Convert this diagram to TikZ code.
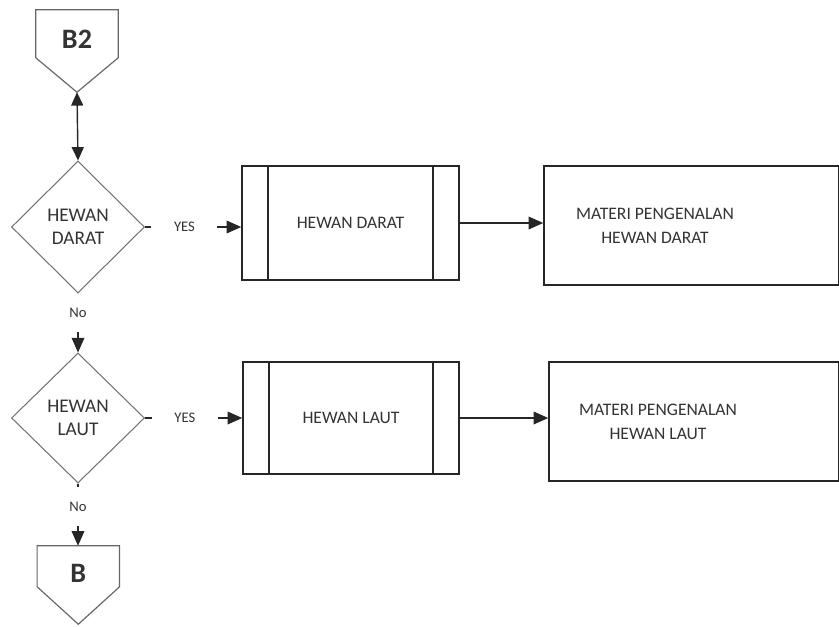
\documentclass[tikz,border=0pt]{standalone}
\usepackage{fontspec}
\setmainfont{Carlito}
\usetikzlibrary{shapes.geometric, arrows.meta}

\begin{document}
\begin{tikzpicture}[
	every node/.style = {text = black!80, font = \fontsize{15}{17}\selectfont},
	decision/.style = {diamond, draw = black!55, line width = 0.9pt, minimum width = 3.99cm, minimum height = 3.93cm, inner sep = 0pt, align = center, font = \fontsize{16.5}{19.5}\selectfont},
	procbox/.style = {rectangle, draw = black!85, line width = 1.3pt, inner sep = 0pt},
	offpage/.style = {inner sep = 0pt, text height = 0pt, text depth = 0.15cm, font = \fontsize{24}{24}\selectfont\bfseries, minimum width = 2.46cm},
	yeslabel/.style = {fill = white, inner sep = 0pt, font = \fontsize{12.5}{12.5}\selectfont, minimum width = 1.98cm},
	nolabel/.style = {fill = white, inner sep = 0pt, font = \fontsize{12.5}{12.5}\selectfont, minimum height = 1.15cm},
	arr/.style = {line width = 1.2pt, draw = black!85, -{Triangle[length = 0.44cm, width = 0.38cm]}},
	biarr/.style = {line width = 1.2pt, draw = black!85, {Triangle[length = 0.4cm, width = 0.36cm]}-{Triangle[length = 0.4cm, width = 0.36cm]}},
	pentline/.style = {draw = black!60, line width = 1pt},
]
	\useasboundingbox (0, 0) rectangle (25.17, -18.78);

	% connectors in and out of the page
	\node (b2) at ( 2.31, -1.53)	[offpage, minimum height = 2.46cm]	{B2};
	\node (b)  at ( 2.35, -17.55)	[offpage, minimum height = 2.34cm]	{B};
	\draw[pentline] (b2.north west) -- (b2.north east) -- ([yshift = -1.44cm]b2.north east) -- (b2.south) -- ([yshift = -1.44cm]b2.north west) -- cycle;
	\draw[pentline] (b.north west) -- (b.north east) -- ([yshift = -1.23cm]b.north east) -- (b.south) -- ([yshift = -1.23cm]b.north west) -- cycle;

	% decisions
	\node (d1) at ( 2.34, -6.81)	[decision, minimum height = 3.96cm]	{HEWAN\\DARAT};
	\node (d2) at ( 2.34, -12.54)	[decision, minimum height = 3.90cm]	{HEWAN\\LAUT};

	% sub processes
	\node (p1) at (10.515, -6.69)	[procbox, minimum width = 6.51cm, minimum height = 3.42cm]	{HEWAN DARAT};
	\node (p2) at (10.53, -12.54)	[procbox, minimum width = 6.48cm, minimum height = 3.36cm]	{HEWAN LAUT};
	\foreach \p in {p1, p2} {
		\draw[black!85, line width = 1.3pt] ([xshift = 0.81cm]\p.north west) -- ([xshift = 0.81cm]\p.south west);
		\draw[black!85, line width = 1.3pt] ([xshift = -0.81cm]\p.north east) -- ([xshift = -0.81cm]\p.south east);
	}

	% materials
	\node (m1) at (20.745, -6.765)	[procbox, minimum width = 8.85cm, minimum height = 3.57cm]	{};
	\node (m2) at (20.82, -12.645)	[procbox, minimum width = 8.70cm, minimum height = 3.57cm]	{};
	\node (m1t) at ([xshift = -1.095cm]m1.center)	[align = center, font = \fontsize{15}{20.5}\selectfont]	{MATERI PENGENALAN\\HEWAN DARAT};
	\node (m2t) at ([xshift = -1.08cm]m2.center)	[align = center, font = \fontsize{15}{20.5}\selectfont]	{MATERI PENGENALAN\\HEWAN LAUT};

	\draw[biarr] (b2.south) -- (d1.north);
	\draw[arr] (d1.east) -- (d1.east -| p1.west) node[yeslabel, pos = 0.41] (yes1) {YES};
	\draw[arr] (d2.east) -- (d2.east -| p2.west) node[yeslabel, pos = 0.41] (yes2) {YES};
	\draw[arr] (d1.south) -- (d2.north) node[nolabel, pos = 0.33] (no1) {No};
	\draw[arr] (d2.south) -- (d2.south |- b.north) node[nolabel, pos = 0.37] (no2) {No};
	\draw[arr] (p1.east) -- (p1.east -| m1.west);
	\draw[arr] (p2.east) -- (p2.east -| m2.west);
\end{tikzpicture}
\end{document}
